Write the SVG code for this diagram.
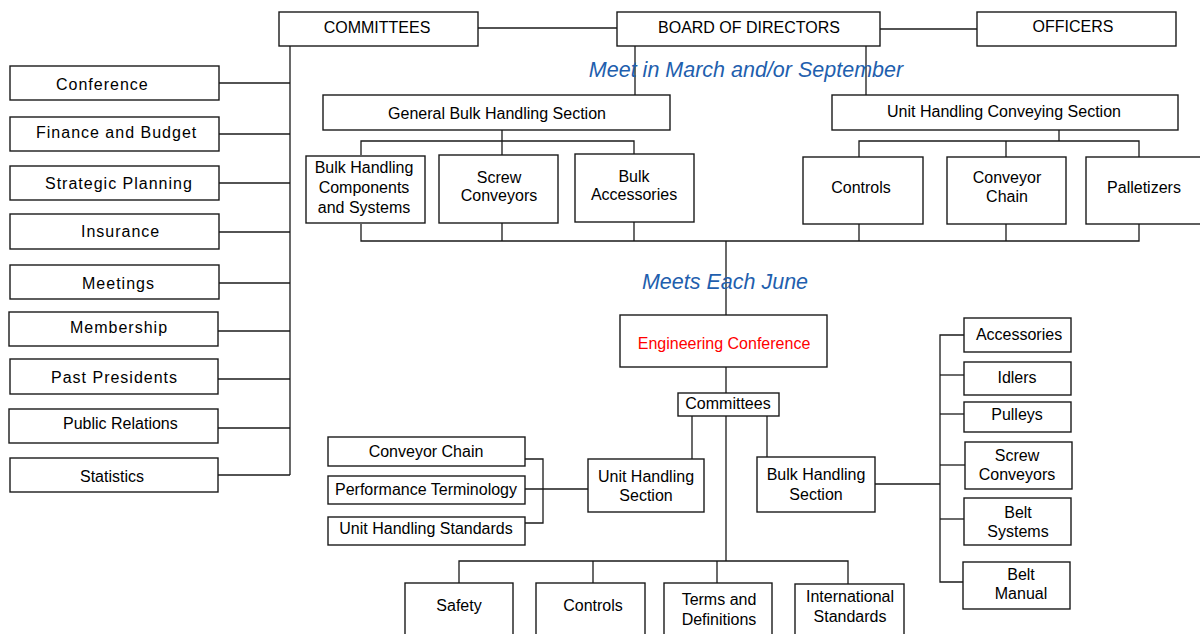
<svg xmlns="http://www.w3.org/2000/svg" width="1200" height="634" viewBox="0 0 1200 634">
<style>
rect{fill:#fff;stroke:#1a1a1a;stroke-width:1.4}
.c line,.c polyline{stroke:#1a1a1a;stroke-width:1.3;fill:none}
text{font-family:"Liberation Sans",Arial,sans-serif;font-size:16px;fill:#000}
.m{text-anchor:middle}
.ls{letter-spacing:1px}
.blue{font-style:italic;font-size:21.5px;fill:#1f5fae;text-anchor:middle}
.red{fill:#f00}
</style>
<rect x="0" y="0" width="1200" height="634" style="stroke:none;fill:#fff"/>
<g class="c" id="connectors">
<line x1="478" y1="28" x2="617" y2="28"/>
<line x1="880" y1="29" x2="977" y2="29"/>
<line x1="290" y1="46" x2="290" y2="475"/>
<line x1="219" y1="83" x2="290" y2="83"/>
<line x1="219" y1="134" x2="290" y2="134"/>
<line x1="219" y1="183" x2="290" y2="183"/>
<line x1="219" y1="232" x2="290" y2="232"/>
<line x1="219" y1="283" x2="290" y2="283"/>
<line x1="218" y1="331" x2="290" y2="331"/>
<line x1="218" y1="379" x2="290" y2="379"/>
<line x1="218" y1="428" x2="290" y2="428"/>
<line x1="218" y1="475" x2="290" y2="475"/>
<line x1="635" y1="46" x2="635" y2="95"/>
<line x1="866" y1="46" x2="866" y2="95"/>
<line x1="502" y1="130" x2="502" y2="141"/>
<polyline points="361,155 361,141 634,141 634,154"/>
<line x1="502" y1="141" x2="502" y2="155"/>
<line x1="1059" y1="130" x2="1059" y2="141"/>
<polyline points="859,157 859,141 1139,141 1139,157"/>
<line x1="1006" y1="141" x2="1006" y2="157"/>
<polyline points="361,224 361,241 1139,241 1139,224"/>
<line x1="502" y1="223" x2="502" y2="241"/>
<line x1="634" y1="222" x2="634" y2="241"/>
<line x1="859" y1="224" x2="859" y2="241"/>
<line x1="1006" y1="224" x2="1006" y2="241"/>
<line x1="726" y1="241" x2="726" y2="315"/>
<line x1="726" y1="367" x2="726" y2="393"/>
<line x1="692" y1="416" x2="692" y2="459"/>
<line x1="767" y1="416" x2="767" y2="457"/>
<line x1="726" y1="416" x2="726" y2="561"/>
<polyline points="525,459 543,459 543,523 525,523"/>
<line x1="525" y1="489" x2="588" y2="489"/>
<line x1="875" y1="484" x2="940" y2="484"/>
<polyline points="964,335 940,335 940,582 963,582"/>
<line x1="940" y1="375" x2="964" y2="375"/>
<line x1="940" y1="414" x2="964" y2="414"/>
<line x1="940" y1="465" x2="965" y2="465"/>
<line x1="940" y1="519" x2="964" y2="519"/>
<polyline points="459,583 459,561 848,561 848,584"/>
<line x1="593" y1="561" x2="593" y2="583"/>
<line x1="717" y1="561" x2="717" y2="583"/>
</g>
<text class="blue" x="746" y="77">Meet in March and/or September</text>
<text class="blue" x="725" y="289">Meets Each June</text>
<g id="committees"><rect x="279" y="12" width="199" height="34"/><text class="m" x="377" y="33">COMMITTEES</text></g>
<g id="board"><rect x="617" y="12" width="263" height="34"/><text class="m" x="749" y="33">BOARD OF DIRECTORS</text></g>
<g id="officers"><rect x="977" y="12" width="199" height="34"/><text class="m" x="1073" y="32">OFFICERS</text></g>
<g id="conference"><rect x="10" y="66" width="209" height="34"/><text class="ls" x="56" y="90">Conference</text></g>
<g id="finance"><rect x="10" y="117" width="209" height="34"/><text class="ls" x="36" y="138">Finance and Budget</text></g>
<g id="strategic"><rect x="10" y="166" width="209" height="34"/><text class="ls" x="45" y="189">Strategic Planning</text></g>
<g id="insurance"><rect x="10" y="214" width="209" height="35"/><text class="ls" x="81" y="237">Insurance</text></g>
<g id="meetings"><rect x="10" y="265" width="209" height="34"/><text class="ls" x="82" y="289">Meetings</text></g>
<g id="membership"><rect x="9" y="312" width="209" height="34"/><text class="ls" x="70" y="333">Membership</text></g>
<g id="past"><rect x="10" y="359" width="208" height="35"/><text class="ls" x="51" y="383">Past Presidents</text></g>
<g id="public"><rect x="9" y="409" width="209" height="34"/><text x="63" y="429">Public Relations</text></g>
<g id="statistics"><rect x="10" y="458" width="208" height="34"/><text x="80" y="482">Statistics</text></g>
<g id="general-bulk"><rect x="323" y="95" width="347" height="35"/><text class="m" x="497" y="119">General Bulk Handling Section</text></g>
<g id="unit-conveying"><rect x="832" y="95" width="346" height="35"/><text class="m" x="1004" y="117">Unit Handling Conveying Section</text></g>
<g id="bulk-components"><rect x="306" y="156" width="119" height="67"/><text class="m" x="364" y="173">Bulk Handling</text><text class="m" x="364" y="193">Components</text><text class="m" x="364" y="213">and Systems</text></g>
<g id="screw-top"><rect x="439" y="155" width="119" height="68"/><text class="m" x="499" y="183">Screw</text><text class="m" x="499" y="201">Conveyors</text></g>
<g id="bulk-accessories"><rect x="575" y="154" width="119" height="68"/><text class="m" x="634" y="182">Bulk</text><text class="m" x="634" y="200">Accessories</text></g>
<g id="controls-top"><rect x="803" y="157" width="120" height="67"/><text class="m" x="861" y="193">Controls</text></g>
<g id="conveyor-chain-top"><rect x="947" y="157" width="119" height="67"/><text class="m" x="1007" y="183">Conveyor</text><text class="m" x="1007" y="202">Chain</text></g>
<g id="palletizers"><rect x="1086" y="157" width="120" height="67"/><text class="m" x="1144" y="193">Palletizers</text></g>
<g id="eng-conf"><rect x="620" y="315" width="207" height="52"/><text class="m red" x="724" y="349">Engineering Conference</text></g>
<g id="committees2"><rect x="678" y="393" width="101" height="23"/><text class="m" x="728" y="409">Committees</text></g>
<g id="unit-section"><rect x="588" y="459" width="116" height="53"/><text class="m" x="646" y="482">Unit Handling</text><text class="m" x="646" y="501">Section</text></g>
<g id="bulk-section"><rect x="757" y="457" width="118" height="55"/><text class="m" x="816" y="480">Bulk Handling</text><text class="m" x="816" y="500">Section</text></g>
<g id="conveyor-chain"><rect x="328" y="437" width="197" height="29"/><text class="m" x="426" y="457">Conveyor Chain</text></g>
<g id="performance"><rect x="328" y="476" width="197" height="28"/><text class="m" x="426" y="495">Performance Terminology</text></g>
<g id="uh-standards"><rect x="328" y="517" width="197" height="28"/><text class="m" x="426" y="534">Unit Handling Standards</text></g>
<g id="accessories"><rect x="964" y="318" width="107" height="34"/><text class="m" x="1019" y="340">Accessories</text></g>
<g id="idlers"><rect x="964" y="362" width="107" height="33"/><text class="m" x="1017" y="383">Idlers</text></g>
<g id="pulleys"><rect x="964" y="402" width="107" height="30"/><text class="m" x="1017" y="420">Pulleys</text></g>
<g id="screw-right"><rect x="965" y="442" width="107" height="47"/><text class="m" x="1017" y="461">Screw</text><text class="m" x="1017" y="480">Conveyors</text></g>
<g id="belt-systems"><rect x="964" y="498" width="107" height="47"/><text class="m" x="1018" y="518">Belt</text><text class="m" x="1018" y="537">Systems</text></g>
<g id="belt-manual"><rect x="963" y="562" width="107" height="47"/><text class="m" x="1021" y="580">Belt</text><text class="m" x="1021" y="599">Manual</text></g>
<g id="safety"><rect x="405" y="583" width="108" height="60"/><text class="m" x="459" y="611">Safety</text></g>
<g id="controls-bottom"><rect x="536" y="583" width="109" height="60"/><text class="m" x="593" y="611">Controls</text></g>
<g id="terms"><rect x="664" y="583" width="108" height="60"/><text class="m" x="719" y="605">Terms and</text><text class="m" x="719" y="625">Definitions</text></g>
<g id="international"><rect x="795" y="584" width="109" height="60"/><text class="m" x="850" y="602">International</text><text class="m" x="850" y="622">Standards</text></g>
</svg>
